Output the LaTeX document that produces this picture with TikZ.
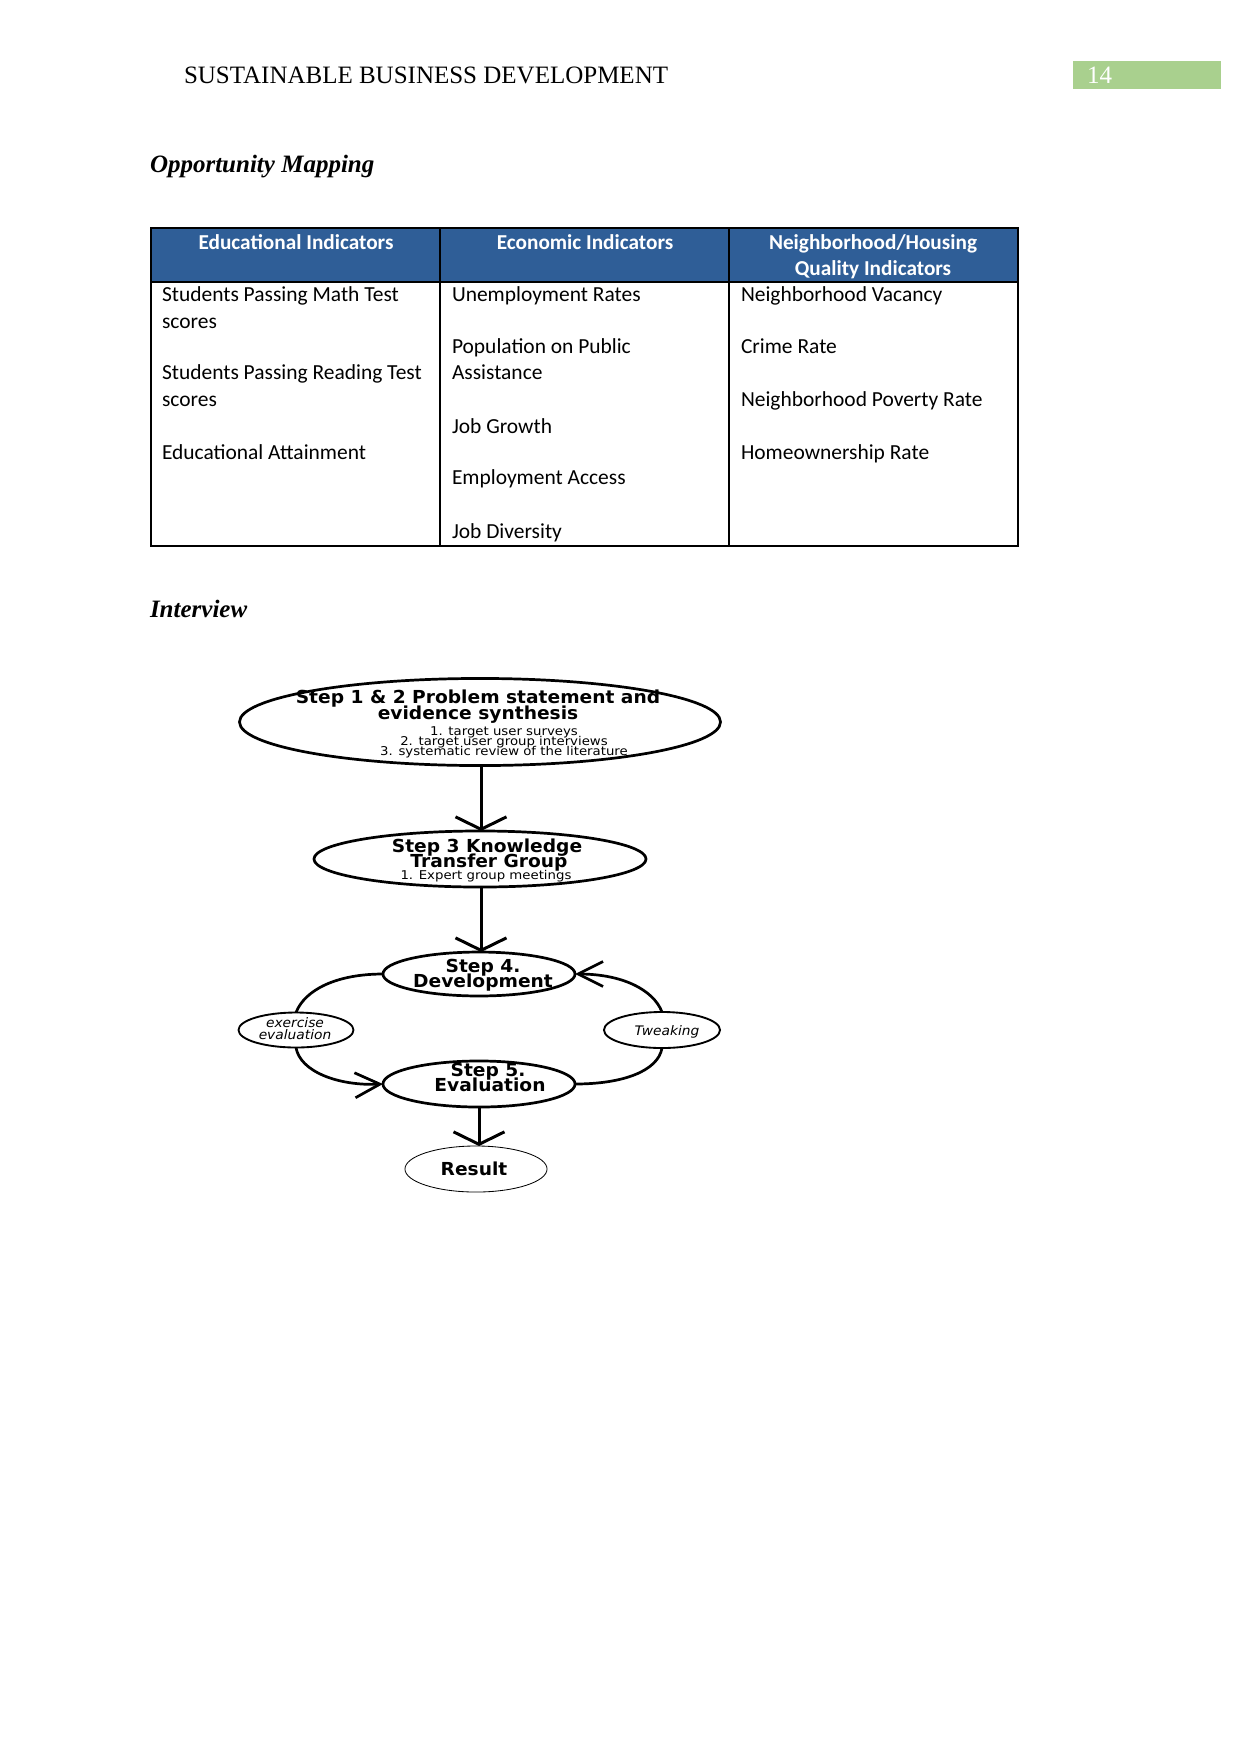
\documentclass[tikz,border=0pt]{standalone}
\usepackage{fontspec}
\setmainfont{Liberation Serif}
\newfontfamily\calfont{Carlito}
\newfontfamily\verfont[FakeStretch=1.04]{DejaVu Sans}
\newfontfamily\versub[FakeStretch=1.1]{DejaVu Sans}
\newfontfamily\verside[FakeStretch=1.05]{DejaVu Sans}
\usetikzlibrary{arrows.meta,shapes.geometric}
\definecolor{hdrblue}{RGB}{47,94,151}
\definecolor{pggreen}{RGB}{169,208,142}
\begin{document}
\begin{tikzpicture}[x=0.48pt,y=-0.48pt,
  every node/.style={inner sep=0pt, outer sep=0pt},
  cell/.style={anchor=mid west, font=\calfont\fontsize{10.3}{12}\selectfont},
  hcell/.style={anchor=mid, text=white, font=\calfont\bfseries\fontsize{10.2}{12}\selectfont},
  stepell/.style={ellipse, draw, line width=1.3pt},
  sideell/.style={ellipse, draw, line width=0.9pt},
  titletxt/.style={anchor=mid, font=\verfont\bfseries\fontsize{8.6}{10}\selectfont},
  subtxt/.style={anchor=mid, font=\versub\fontsize{5.8}{7}\selectfont},
  sidetxt/.style={anchor=mid, font=\verside\itshape\fontsize{6.3}{7}\selectfont},
  flowarrow/.style={line width=1.44pt, -{Straight Barb[length=6pt,width=24.5pt]}},
  cycline/.style={line width=1.3pt},
  cycarrow/.style={cycline, -{Straight Barb[length=12pt,width=12pt]}},
  headtxt/.style={anchor=base west, font=\fontsize{12}{14}\selectfont},
  sectxt/.style={anchor=base west, font=\bfseries\itshape\fontsize{12}{14}\selectfont},
]
\useasboundingbox (0,0) rectangle (1241,1754);

% page header
\node[headtxt] (hdr) at (184,83) {SUSTAINABLE BUSINESS DEVELOPMENT};
\fill[pggreen] (1073,61) rectangle (1221,89);
\node[headtxt, text=white] (pgno) at (1087,83) {14};

% section titles
\node[sectxt] (sec1) at (150,172) {Opportunity Mapping};
\node[sectxt] (sec2) at (150,617) {Interview};

% table
\fill[hdrblue] (151,228) rectangle (1018,282);
\draw[line width=0.8pt] (151,282) -- (1018,282);
\draw[line width=0.8pt] (440,228) -- (440,546);
\draw[line width=0.8pt] (729,228) -- (729,546);
\draw[line width=1.1pt] (151,228) rectangle (1018,546);

\node[hcell] (h1) at (296,245) {Educational Indicators};
\node[hcell] (h2) at (585,245) {Economic Indicators};
\node[hcell] (h3a) at (873,245) {Neighborhood/Housing};
\node[hcell] (h3b) at (873,271) {Quality Indicators};

\node[cell] (c1a) at (162,297) {Students Passing Math Test};
\node[cell] (c1b) at (162,324) {scores};
\node[cell] (c1c) at (162,375) {Students Passing Reading Test};
\node[cell] (c1d) at (162,402) {scores};
\node[cell] (c1e) at (162,455) {Educational Attainment};

\node[cell] (c2a) at (452,297) {Unemployment Rates};
\node[cell] (c2b) at (452,349) {Population on Public};
\node[cell] (c2c) at (452,375) {Assistance};
\node[cell] (c2d) at (452,429) {Job Growth};
\node[cell] (c2e) at (452,480) {Employment Access};
\node[cell] (c2f) at (452,534) {Job Diversity};

\node[cell] (c3a) at (741,297) {Neighborhood Vacancy};
\node[cell] (c3b) at (741,349) {Crime Rate};
\node[cell] (c3c) at (741,402) {Neighborhood Poverty Rate};
\node[cell] (c3d) at (741,455) {Homeownership Rate};

% flow diagram
\node[stepell, minimum width=230.9pt, minimum height=41.8pt] (s12) at (480,722) {};
\node[titletxt] (s12a) at (478,698.5) {Step 1 \& 2 Problem statement and};
\node[titletxt] (s12b) at (478,714.5) {evidence synthesis};
\node[subtxt] (s12c) at (504,731) {1. target user surveys};
\node[subtxt] (s12d) at (504,741) {2. target user group interviews};
\node[subtxt] (s12e) at (504,751) {3. systematic review of the literature};

\node[stepell, minimum width=159.4pt, minimum height=26.9pt] (s3) at (480,859) {};
\node[titletxt] (s3a) at (487,847.5) {Step 3 Knowledge};
\node[titletxt] (s3b) at (489,862.5) {Transfer Group};
\node[subtxt] (s3c) at (486,875) {1. Expert group meetings};

\node[stepell, minimum width=92.2pt, minimum height=21.1pt] (s4) at (479,974) {};
\node[titletxt] (s4a) at (483,967.5) {Step 4.};
\node[titletxt] (s4b) at (483,982.5) {Development};

\node[stepell, minimum width=92.2pt, minimum height=22.1pt] (s5) at (479,1084) {};
\node[titletxt] (s5a) at (488,1071.5) {Step 5.};
\node[titletxt] (s5b) at (490,1086.5) {Evaluation};

\node[sideell, minimum width=55.2pt, minimum height=16.8pt] (ex) at (296,1030) {};
\node[sidetxt] (exa) at (295,1023) {exercise};
\node[sidetxt] (exb) at (295,1035) {evaluation};

\node[sideell, minimum width=55.7pt, minimum height=17.3pt] (tw) at (662,1030) {};
\node[sidetxt] (twa) at (667,1031) {Tweaking};

\node[ellipse, draw, line width=0.4pt, minimum width=68.2pt, minimum height=22.1pt] (res) at (476,1169) {};
\node[titletxt] (resa) at (474,1170.5) {Result};

% connectors
\draw[flowarrow] (s12.south -| 481,0) -- (s3.north -| 481,0);
\draw[flowarrow] (s3.south -| 481,0) -- (s4.north -| 481,0);
\draw[flowarrow] (s5.south) -- (s5.south |- res.north);

\draw[cycline] (s4.west) .. controls +(-46,0) and +(9,-23) .. (ex.north);
\draw[cycarrow] (ex.south) .. controls +(4,24) and +(-45,2) .. (s5.west);
\draw[cycline] (s5.east) .. controls +(48,0) and +(-4,23) .. (tw.south);
\draw[cycarrow] (tw.north) .. controls +(-9,-23) and +(46,0) .. (s4.east);
\end{tikzpicture}
\end{document}
